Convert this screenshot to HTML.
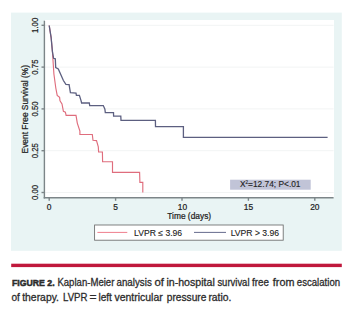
<!DOCTYPE html>
<html><head><meta charset="utf-8">
<style>
html,body{margin:0;padding:0;background:#fff;width:350px;height:314px;overflow:hidden;}
body{position:relative;font-family:"Liberation Sans",sans-serif;}
svg{position:absolute;left:0;top:0;}
</style></head><body>
<svg width="350" height="314" viewBox="0 0 350 314">
  <!-- panel -->
  <rect x="11" y="12.6" width="330.8" height="238.2" fill="#e9f4f4"/>
  <!-- plot area -->
  <rect x="44.4" y="20" width="289.6" height="177.8" fill="#ffffff"/>
  <!-- grid -->
  <g stroke="#f2f4f4" stroke-width="1">
    <line x1="45" y1="25.3" x2="333.6" y2="25.3"/>
    <line x1="45" y1="67.1" x2="333.6" y2="67.1"/>
    <line x1="45" y1="108.9" x2="333.6" y2="108.9"/>
    <line x1="45" y1="150.7" x2="333.6" y2="150.7"/>
    <line x1="45" y1="192.5" x2="333.6" y2="192.5"/>
  </g>
  <!-- axes -->
  <g stroke="#7c8588" stroke-width="1.4" fill="none">
    <line x1="44.4" y1="20.7" x2="44.4" y2="198.5"/>
    <line x1="43.7" y1="197.8" x2="333.6" y2="197.8"/>
    <line x1="41.5" y1="25.3" x2="44.4" y2="25.3"/>
    <line x1="41.5" y1="67.1" x2="44.4" y2="67.1"/>
    <line x1="41.5" y1="108.9" x2="44.4" y2="108.9"/>
    <line x1="41.5" y1="150.7" x2="44.4" y2="150.7"/>
    <line x1="41.5" y1="192.5" x2="44.4" y2="192.5"/>
    <line x1="49.2" y1="197.8" x2="49.2" y2="200.8"/>
    <line x1="115.6" y1="197.8" x2="115.6" y2="200.8"/>
    <line x1="182" y1="197.8" x2="182" y2="200.8"/>
    <line x1="248.4" y1="197.8" x2="248.4" y2="200.8"/>
    <line x1="314.8" y1="197.8" x2="314.8" y2="200.8"/>
  </g>
  <!-- y tick labels -->
  <g font-family="Liberation Sans" font-size="8.4" fill="#222" stroke="#222" stroke-width="0.22" text-anchor="middle">
    <text transform="translate(38.3,25.3) rotate(-90)" font-size="8.7" textLength="15.2" lengthAdjust="spacingAndGlyphs">1.00</text>
    <text transform="translate(38.3,67.1) rotate(-90)" font-size="8.7" textLength="15.2" lengthAdjust="spacingAndGlyphs">0.75</text>
    <text transform="translate(38.3,108.9) rotate(-90)" font-size="8.7" textLength="15.2" lengthAdjust="spacingAndGlyphs">0.50</text>
    <text transform="translate(38.3,150.7) rotate(-90)" font-size="8.7" textLength="15.2" lengthAdjust="spacingAndGlyphs">0.25</text>
    <text transform="translate(38.3,192.5) rotate(-90)" font-size="8.7" textLength="15.2" lengthAdjust="spacingAndGlyphs">0.00</text>
    <text transform="translate(27.9,109.2) rotate(-90)">Event Free Survival (%)</text>
  </g>
  <!-- x tick labels -->
  <g font-family="Liberation Sans" font-size="8.4" fill="#222" stroke="#222" stroke-width="0.22" text-anchor="middle">
    <text x="49.2" y="210">0</text>
    <text x="115.6" y="210">5</text>
    <text x="182.5" y="210">10</text>
    <text x="248.4" y="210">15</text>
    <text x="314.8" y="210">20</text>
    <text x="189.2" y="219">Time (days)</text>
  </g>
  <!-- curves -->
  <path fill="none" stroke="#df6d7d" stroke-width="1.15" stroke-linejoin="miter"
    d="M49.2,25.5 L51.1,37.3 L52.4,51.3 L53.9,74 L55.8,88 L57.2,95.4 L59.6,97.4 L60,100.7 L62,104 L63.4,111.4 L65.4,112.1 L66.1,115.4 L76,115.4 L77.3,123.1 L79.9,131 L79.9,134.5 L92.3,134.5 L93,140.3 L96.5,140.6 L98.3,146.8 L98.6,152 L102.4,152 L102.6,161.7 L112.5,161.7 L112.5,172.4 L139.6,172.4 L139.9,182.4 L142.8,182.4 L142.8,192.5"/>
  <path fill="none" stroke="#5c5f80" stroke-width="1.3" stroke-linejoin="miter"
    d="M49.2,25.5 L51.1,37.3 L52.4,51.3 L53.6,58.3 L55.3,58.8 L55.7,67.5 L58.3,69 L63.4,80.5 L65.9,84.3 L69.1,84.6 L70.4,92.7 L76,93.1 L76.4,95.3 L79.4,95.3 L81.1,100.9 L81.6,103 L89.3,103 L89.7,105.6 L103.3,105.6 L104.9,109.2 L105.3,112.6 L113.5,112.6 L113.6,116.2 L120.8,116.2 L121,120.3 L155.4,120.3 L155.5,126.6 L183.4,126.6 L183.4,137.4 L327.6,137.4"/>
  <!-- stats box -->
  <rect x="230.1" y="179.7" width="80.6" height="10" fill="#c1c4d7"/>
  <text x="240" y="187.3" font-family="Liberation Sans" font-size="8.6" fill="#222" stroke="#222" stroke-width="0.12" textLength="60.5" lengthAdjust="spacingAndGlyphs">X<tspan font-size="4.6" dy="-3.2">2</tspan><tspan dy="3.2">=12.74; P&lt;.01</tspan></text>
  <!-- legend -->
  <rect x="94.6" y="225" width="188.6" height="15.2" fill="#ffffff" stroke="#6a6a6a" stroke-width="0.85"/>
  <line x1="97.4" y1="232.4" x2="127.3" y2="232.4" stroke="#ef7e8c" stroke-width="1"/>
  <text x="134.1" y="236" font-family="Liberation Sans" font-size="8.6" fill="#222" stroke="#222" stroke-width="0.12">LVPR ≤ 3.96</text>
  <line x1="194" y1="232.4" x2="226" y2="232.4" stroke="#555a80" stroke-width="0.9"/>
  <text x="230.7" y="236" font-family="Liberation Sans" font-size="8.6" fill="#222" stroke="#222" stroke-width="0.12">LVPR &gt; 3.96</text>
  <!-- red bar -->
  <rect x="11.2" y="263.7" width="330.6" height="3.4" fill="#c0183c"/>
  <g font-family="Liberation Sans" fill="#2e2e2e">
    <text x="12.0" y="286" font-size="9" font-weight="bold" stroke="#2a2a2a" stroke-width="0.5" textLength="42.6" lengthAdjust="spacingAndGlyphs">FIGURE 2.</text>
    <g font-size="10.6" stroke="#2a2a2a" stroke-width="0.3">
    <text x="57.4" y="286.3" textLength="57.0" lengthAdjust="spacingAndGlyphs">Kaplan-Meier</text>
    <text x="116.5" y="286.3" textLength="35.3" lengthAdjust="spacingAndGlyphs">analysis</text>
    <text x="154.5" y="286.3" textLength="9.5" lengthAdjust="spacingAndGlyphs">of</text>
    <text x="166.4" y="286.3" textLength="48.4" lengthAdjust="spacingAndGlyphs">in-hospital</text>
    <text x="217.4" y="286.3" textLength="32.1" lengthAdjust="spacingAndGlyphs">survival</text>
    <text x="252.0" y="286.3" textLength="17.0" lengthAdjust="spacingAndGlyphs">free</text>
    <text x="272.8" y="286.3" textLength="21.6" lengthAdjust="spacingAndGlyphs">from</text>
    <text x="296.8" y="286.3" textLength="43.3" lengthAdjust="spacingAndGlyphs">escalation</text>
    <text x="11.5" y="300.6" textLength="8.4" lengthAdjust="spacingAndGlyphs">of</text>
    <text x="22.2" y="300.6" textLength="36.8" lengthAdjust="spacingAndGlyphs">therapy.</text>
    <text x="63.0" y="300.6" textLength="24.4" lengthAdjust="spacingAndGlyphs">LVPR</text>
    <text x="89.4" y="300.6" textLength="7.0" lengthAdjust="spacingAndGlyphs">=</text>
    <text x="98.4" y="300.6" textLength="13.5" lengthAdjust="spacingAndGlyphs">left</text>
    <text x="114.5" y="300.6" textLength="48.2" lengthAdjust="spacingAndGlyphs">ventricular</text>
    <text x="166.8" y="300.6" textLength="39.6" lengthAdjust="spacingAndGlyphs">pressure</text>
    <text x="208.4" y="300.6" textLength="23.0" lengthAdjust="spacingAndGlyphs">ratio.</text>
    </g>
  </g>
</svg>
</body></html>
